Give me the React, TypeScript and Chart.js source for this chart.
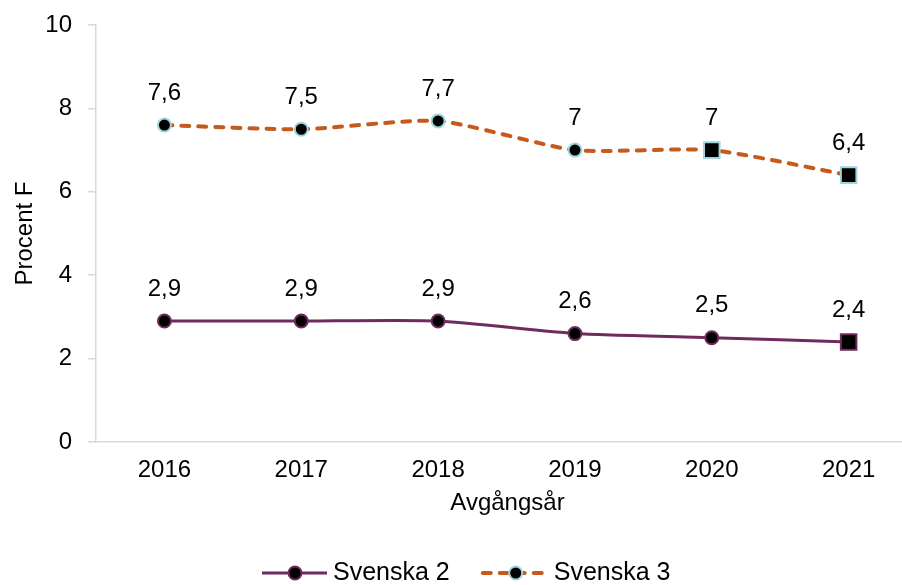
import React, { useEffect, useRef } from "react";
import { Chart, registerables } from "chart.js";

Chart.register(...registerables);

const years = [2016, 2017, 2018, 2019, 2020, 2021];
const svenska2 = [2.9, 2.9, 2.9, 2.6, 2.5, 2.4];
const svenska3 = [7.6, 7.5, 7.7, 7, 7, 6.4];
const yTicks = [0, 2, 4, 6, 8, 10];
const seriesNames = ["Svenska 2", "Svenska 3"];
const xTitle = "Avgångsår";
const yTitle = "Procent F";

const FONT = "Arial, 'Liberation Sans', sans-serif";
const PURPLE = "#6f2a5e";
const ORANGE = "#c55a1c";
const CYAN = "#9fd4dc";

const fmt = (v: number) => String(v).replace(".", ",");

const dataLabelPlugin = {
  id: "dataLabels",
  afterDatasetsDraw(chart: any) {
    const ctx = chart.ctx;
    ctx.save();
    ctx.font = `24px ${FONT}`;
    ctx.fillStyle = "#000";
    ctx.textAlign = "center";
    ctx.textBaseline = "middle";
    chart.data.datasets.forEach((ds: any, i: number) => {
      const meta = chart.getDatasetMeta(i);
      meta.data.forEach((pt: any, j: number) => {
        ctx.fillText(fmt(ds.data[j].y), pt.x, pt.y - 32);
      });
    });
    ctx.restore();
  },
};

const xTitlePlugin = {
  id: "xTitle",
  afterDraw(chart: any) {
    const ctx = chart.ctx;
    ctx.save();
    ctx.font = `24px ${FONT}`;
    ctx.fillStyle = "#000";
    ctx.textAlign = "center";
    ctx.textBaseline = "middle";
    const xs = chart.scales.x;
    ctx.fillText(xTitle, (xs.left + xs.right) / 2 + 8.5, xs.bottom - 28.5);
    ctx.restore();
  },
};

const legendPlugin = {
  id: "customLegend",
  afterDraw(chart: any) {
    const ctx = chart.ctx;
    ctx.save();
    ctx.font = `25px ${FONT}`;
    ctx.textBaseline = "middle";
    ctx.textAlign = "left";
    const y = 573;
    let x = 262;
    chart.data.datasets.forEach((ds: any) => {
      ctx.beginPath();
      ctx.strokeStyle = ds.borderColor;
      ctx.lineWidth = ds.borderWidth;
      ctx.lineCap = ds.borderCapStyle || "butt";
      ctx.setLineDash(ds.borderDash || []);
      ctx.moveTo(x, y);
      ctx.lineTo(x + 65, y);
      ctx.stroke();
      ctx.setLineDash([]);
      ctx.beginPath();
      ctx.arc(x + 33, y, 6.5, 0, Math.PI * 2);
      ctx.fillStyle = "#000";
      ctx.fill();
      ctx.lineWidth = 2;
      ctx.strokeStyle = ds.pointBorderColor;
      ctx.stroke();
      ctx.fillStyle = "#000";
      const tx = x + 71;
      ctx.fillText(ds.label, tx, y);
      x = tx + ctx.measureText(ds.label).width + 33;
    });
    ctx.restore();
  },
};

export default function App() {
  const ref = useRef<HTMLCanvasElement>(null);

  useEffect(() => {
    if (!ref.current) return;
    const chart = new Chart(ref.current, {
      type: "line",
      data: {
        datasets: [
          {
            label: seriesNames[0],
            data: years.map((x, i) => ({ x, y: svenska2[i] })),
            borderColor: PURPLE,
            borderWidth: 3,
            tension: 0.2,
            clip: false,
            pointBackgroundColor: "#000",
            pointBorderColor: PURPLE,
            pointBorderWidth: 2,
            pointStyle: ["circle", "circle", "circle", "circle", "circle", "rect"],
            pointRadius: [6.5, 6.5, 6.5, 6.5, 6.5, 11],
            pointHoverRadius: [6.5, 6.5, 6.5, 6.5, 6.5, 11],
          },
          {
            label: seriesNames[1],
            data: years.map((x, i) => ({ x, y: svenska3[i] })),
            borderColor: ORANGE,
            borderWidth: 4,
            borderDash: [8, 9],
            borderCapStyle: "round",
            tension: 0.2,
            clip: false,
            pointBackgroundColor: "#000",
            pointBorderColor: CYAN,
            pointBorderWidth: 2,
            pointStyle: ["circle", "circle", "circle", "circle", "rect", "rect"],
            pointRadius: [6.5, 6.5, 6.5, 6.5, 11, 11],
            pointHoverRadius: [6.5, 6.5, 6.5, 6.5, 11, 11],
          },
        ] as any,
      },
      options: {
        animation: false,
        responsive: false,
        layout: { autoPadding: false, padding: { left: 0, top: 25, right: 0, bottom: 53 } },
        plugins: {
          legend: { display: false },
          tooltip: { enabled: false },
        },
        scales: {
          x: {
            type: "linear",
            min: 2015.5,
            max: 2021.39,
            afterBuildTicks: (axis: any) => {
              axis.ticks = years.map((v) => ({ value: v }));
            },
            afterFit: (axis: any) => {
              axis.height = 90;
              axis.paddingLeft = 0;
              axis.paddingRight = 0;
            },
            grid: { display: false, drawTicks: false },
            border: { display: true, color: "#d9d9d9", width: 1.5 },
            ticks: {
              font: { family: FONT, size: 24 },
              color: "#000",
              padding: 14,
              autoSkip: false,
              maxRotation: 0,
              callback: (v: any) => String(v),
            },
            title: { display: false },
          },
          y: {
            min: 0,
            max: 10,
            afterBuildTicks: (axis: any) => {
              axis.ticks = yTicks.map((v) => ({ value: v }));
            },
            afterFit: (axis: any) => {
              axis.width = 96;
              axis.paddingTop = 0;
              axis.paddingBottom = 0;
            },
            grid: {
              display: true,
              drawOnChartArea: false,
              drawTicks: true,
              tickLength: 8,
              color: "#d9d9d9",
              lineWidth: 1.5,
            },
            border: { display: true, color: "#d9d9d9", width: 1.5 },
            ticks: {
              font: { family: FONT, size: 24 },
              color: "#000",
              padding: 16,
              callback: (v: any) => String(v),
            },
            title: {
              display: true,
              text: yTitle,
              font: { family: FONT, size: 24 },
              color: "#000",
              padding: { top: 11, bottom: 0 },
            },
          },
        },
      },
      plugins: [dataLabelPlugin, xTitlePlugin, legendPlugin],
    });
    return () => chart.destroy();
  }, []);

  return (
    <div style={{ position: "fixed", left: 0, top: 0, width: 902, height: 585, background: "#fff" }}>
      <canvas ref={ref} width={902} height={585} style={{ display: "block" }} />
    </div>
  );
}
